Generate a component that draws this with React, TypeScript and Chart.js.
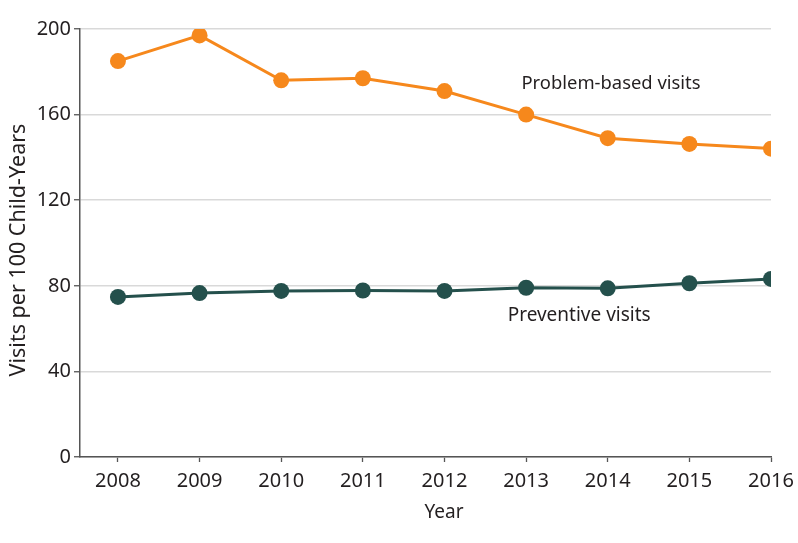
import React, { useEffect, useRef } from "react";
import { Chart, registerables } from "chart.js";

Chart.register(...registerables);

const years = [2008, 2009, 2010, 2011, 2012, 2013, 2014, 2015, 2016];
const problemBased = [185, 197, 176, 177, 171, 160, 149, 146.3, 144.1];
const preventive = [74.8, 76.6, 77.6, 77.8, 77.6, 79.1, 78.8, 81.2, 83.2];
const yTicks = [0, 40, 80, 120, 160, 200];
const seriesNames = ["Problem-based visits", "Preventive visits"];
const xTitle = "Year";
const yTitle = "Visits per 100 Child-Years";

const FONT = "'Noto Sans', sans-serif";
const TEXT = "#231f20";
const ORANGE = "#f6881c";
const TEAL = "#24504c";

const textPlugin = {
  id: "textPlugin",
  afterDraw(chart: any) {
    const { ctx, scales } = chart;
    ctx.save();
    ctx.fillStyle = TEXT;
    ctx.textAlign = "center";
    ctx.textBaseline = "middle";
    // series labels, anchored in data space
    ctx.font = `18.4px ${FONT}`;
    ctx.fillText(seriesNames[0], scales.x.getPixelForValue(2014.04), scales.y.getPixelForValue(174.3));
    ctx.font = `19px ${FONT}`;
    ctx.fillText(seriesNames[1], scales.x.getPixelForValue(2013.65), scales.y.getPixelForValue(65.9));
    // axis titles
    ctx.font = `19px ${FONT}`;
    ctx.fillText(xTitle, 444, 513);
    ctx.translate(19, 250);
    ctx.rotate(-Math.PI / 2);
    ctx.font = `21.5px ${FONT}`;
    ctx.fillText(yTitle, 0, 0);
    ctx.restore();
  },
};

export default function App() {
  const ref = useRef<HTMLCanvasElement>(null);
  useEffect(() => {
    document.body.style.margin = "0";
    const chart = new Chart(ref.current!, {
      type: "line",
      data: {
        datasets: [
          {
            label: seriesNames[0],
            data: years.map((x, i) => ({ x, y: problemBased[i] })),
            borderColor: ORANGE,
            backgroundColor: ORANGE,
            borderWidth: 3,
            pointRadius: 8,
            pointHoverRadius: 8,
            pointBorderWidth: 0,
          },
          {
            label: seriesNames[1],
            data: years.map((x, i) => ({ x, y: preventive[i] })),
            borderColor: TEAL,
            backgroundColor: TEAL,
            borderWidth: 3,
            pointRadius: 8,
            pointHoverRadius: 8,
            pointBorderWidth: 0,
          },
        ],
      },
      options: {
        animation: false,
        responsive: false,
        maintainAspectRatio: false,
        layout: { padding: { left: 0, right: 27, top: 29, bottom: 0 } },
        plugins: { legend: { display: false }, tooltip: { enabled: false } },
        scales: {
          x: {
            type: "linear",
            min: 2007.535,
            max: 2016,
            afterBuildTicks: (s: any) => {
              s.ticks = years.map((v) => ({ value: v }));
            },
            afterFit: (s: any) => {
              s.height = 86;
              s.paddingRight = 0;
            },
            grid: { drawOnChartArea: false, tickLength: 5, tickColor: "#555", tickWidth: 1.3 },
            border: { color: "#555", width: 1.5 },
            ticks: {
              color: TEXT,
              font: { family: FONT, size: 20 },
              padding: 7,
              maxRotation: 0,
              callback: (v: any) => String(v),
            },
          },
          y: {
            min: 0,
            max: 200,
            afterBuildTicks: (s: any) => {
              s.ticks = yTicks.map((v) => ({ value: v }));
            },
            afterFit: (s: any) => {
              s.width = 80;
            },
            grid: { color: "#d9d9d9", lineWidth: 1.5, tickLength: 6, tickColor: "#555", tickWidth: 1.3 },
            border: { color: "#555", width: 1.5 },
            ticks: {
              color: TEXT,
              font: { family: FONT, size: 20 },
              padding: 3,
            },
          },
        },
      },
      plugins: [textPlugin],
    } as any);
    return () => chart.destroy();
  }, []);
  return (
    <div style={{ width: 798, height: 543, background: "#fff" }}>
      <canvas ref={ref} width={798} height={543} style={{ display: "block" }} />
    </div>
  );
}
